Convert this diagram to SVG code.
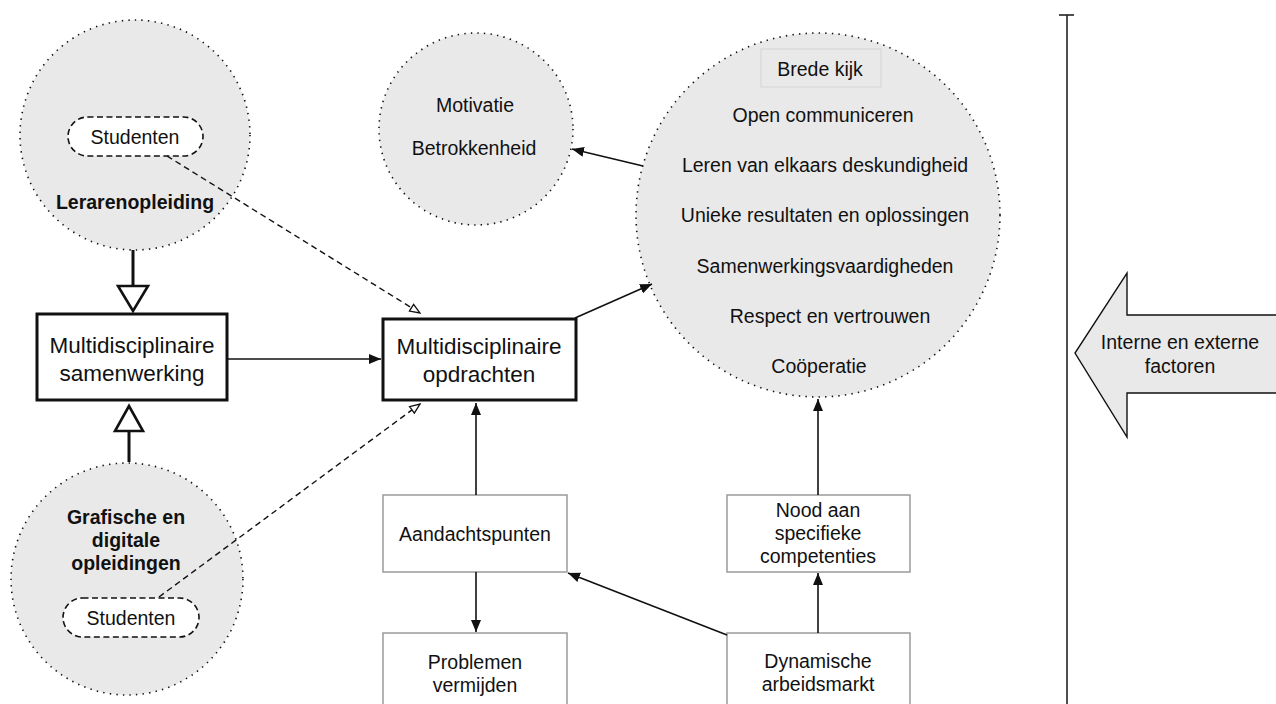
<svg xmlns="http://www.w3.org/2000/svg" width="1276" height="704" viewBox="0 0 1276 704">
  <style>
    text { font-family: "Liberation Sans", Arial, Helvetica, sans-serif; font-size: 19.5px; fill: #111; text-anchor: middle; }
    .big { font-size: 22.5px; }
    .bold { font-weight: bold; }
    .zone { fill: #e9e9e9; stroke: #111; stroke-width: 1.6; stroke-dasharray: 1.4 5.2; }
    .pill { fill: #fff; stroke: #111; stroke-width: 1.6; stroke-dasharray: 6 3.5; }
    .main { fill: #fff; stroke: #111; stroke-width: 3; }
    .box { fill: #fff; stroke: #9a9a9a; stroke-width: 1.5; }
    .line { fill: none; stroke: #111; stroke-width: 1.6; }
    .dash { fill: none; stroke: #111; stroke-width: 1.4; stroke-dasharray: 6 4; }
    .thick { fill: none; stroke: #111; stroke-width: 3; }
  </style>
  <defs>
    <marker id="solid" viewBox="0 0 12 10" refX="12" refY="5" markerWidth="12" markerHeight="10" markerUnits="userSpaceOnUse" orient="auto">
      <path d="M0,0 L12,5 L0,10 Z" fill="#111"/>
    </marker>
    <marker id="open" viewBox="0 0 12 10" refX="11" refY="5" markerWidth="12" markerHeight="10" markerUnits="userSpaceOnUse" orient="auto">
      <path d="M1,1 L11,5 L1,9 Z" fill="#fff" stroke="#111" stroke-width="1.3"/>
    </marker>
  </defs>

  <!-- Lerarenopleiding -->
  <g id="lerarenopleiding">
    <circle class="zone" cx="135" cy="135" r="115"/>
    <rect class="pill" x="68" y="117" width="135" height="39" rx="19.5"/>
    <text x="135" y="144">Studenten</text>
    <text class="bold" x="135" y="209">Lerarenopleiding</text>
  </g>

  <!-- Grafische en digitale opleidingen -->
  <g id="grafische">
    <circle class="zone" cx="127" cy="579" r="116"/>
    <text class="bold" x="126" y="524">Grafische en</text>
    <text class="bold" x="126" y="547">digitale</text>
    <text class="bold" x="126" y="570">opleidingen</text>
    <rect class="pill" x="63" y="598" width="136" height="39" rx="19.5"/>
    <text x="131" y="625">Studenten</text>
  </g>

  <!-- Multidisciplinaire samenwerking -->
  <g id="samenwerking">
    <rect class="main" x="37" y="314" width="190" height="86"/>
    <text class="big" x="132" y="353">Multidisciplinaire</text>
    <text class="big" x="132" y="381">samenwerking</text>
  </g>

  <!-- Multidisciplinaire opdrachten -->
  <g id="opdrachten">
    <rect class="main" x="383" y="319" width="193" height="81"/>
    <text class="big" x="479" y="354">Multidisciplinaire</text>
    <text class="big" x="479" y="382">opdrachten</text>
  </g>

  <!-- Motivatie / Betrokkenheid -->
  <g id="motivatie">
    <ellipse class="zone" cx="476" cy="129" rx="97" ry="96"/>
    <text x="475" y="112">Motivatie</text>
    <text x="474" y="155">Betrokkenheid</text>
  </g>

  <!-- Outcomes -->
  <g id="resultaten">
    <circle class="zone" cx="818" cy="215" r="182"/>
    <rect x="761" y="49" width="120" height="38" fill="none" stroke="#d4d4d4" stroke-width="1"/>
    <text x="820" y="76">Brede kijk</text>
    <text x="823" y="122">Open communiceren</text>
    <text x="825" y="172">Leren van elkaars deskundigheid</text>
    <text x="825" y="222">Unieke resultaten en oplossingen</text>
    <text x="825" y="273">Samenwerkingsvaardigheden</text>
    <text x="830" y="323">Respect en vertrouwen</text>
    <text x="819" y="373">Coöperatie</text>
  </g>

  <!-- Lower boxes -->
  <g id="aandachtspunten">
    <rect class="box" x="383" y="495" width="184" height="77"/>
    <text x="475" y="541">Aandachtspunten</text>
  </g>
  <g id="problemen">
    <rect class="box" x="383" y="633" width="184" height="80"/>
    <text x="475" y="669">Problemen</text>
    <text x="475" y="692">vermijden</text>
  </g>
  <g id="nood">
    <rect class="box" x="727" y="495" width="183" height="77"/>
    <text x="818" y="517">Nood aan</text>
    <text x="818" y="540">specifieke</text>
    <text x="818" y="563">competenties</text>
  </g>
  <g id="arbeidsmarkt">
    <rect class="box" x="727" y="633" width="183" height="80"/>
    <text x="818" y="668">Dynamische</text>
    <text x="818" y="691">arbeidsmarkt</text>
  </g>

  <!-- External factors arrow -->
  <g id="factoren">
    <path d="M1280,315 L1127,315 L1127,273 L1075,353 L1127,437 L1127,393 L1280,393 Z" fill="#e9e9e9" stroke="#111" stroke-width="1.4"/>
    <text x="1180" y="349">Interne en externe</text>
    <text x="1180" y="373">factoren</text>
  </g>

  <!-- Connectors (drawn last so they sit over the shaded zones) -->
  <g id="connectors">
    <!-- hollow-triangle links from the two programmes to the collaboration box -->
    <line class="thick" x1="133" y1="250" x2="133" y2="286"/>
    <path d="M118,286 L148,286 L133,311 Z" fill="#fff" stroke="#111" stroke-width="2.6" stroke-linejoin="miter"/>
    <line class="thick" x1="129" y1="462" x2="129" y2="431"/>
    <path d="M115,431 L143,431 L129,406 Z" fill="#fff" stroke="#111" stroke-width="2.6" stroke-linejoin="miter"/>

    <!-- student links (dashed) -->
    <line class="dash" x1="167" y1="156" x2="420" y2="313" marker-end="url(#open)"/>
    <line class="dash" x1="159" y1="597" x2="420" y2="404" marker-end="url(#open)"/>

    <!-- solid arrows -->
    <line class="line" x1="227" y1="359" x2="381" y2="359" marker-end="url(#solid)"/>
    <line class="line" x1="575" y1="318" x2="652" y2="284" marker-end="url(#solid)"/>
    <line class="line" x1="643" y1="166" x2="572" y2="149" marker-end="url(#solid)"/>
    <line class="line" x1="476" y1="495" x2="476" y2="403" marker-end="url(#solid)"/>
    <line class="line" x1="476" y1="572" x2="476" y2="632" marker-end="url(#solid)"/>
    <line class="line" x1="727" y1="635" x2="568" y2="573" marker-end="url(#solid)"/>
    <line class="line" x1="818" y1="633" x2="818" y2="573" marker-end="url(#solid)"/>
    <line class="line" x1="818" y1="495" x2="818" y2="399" marker-end="url(#solid)"/>

    <!-- boundary line -->
    <line x1="1067" y1="15" x2="1067" y2="704" stroke="#222" stroke-width="1.6"/>
    <line x1="1059" y1="15" x2="1074" y2="15" stroke="#222" stroke-width="1.6"/>
  </g>
</svg>
